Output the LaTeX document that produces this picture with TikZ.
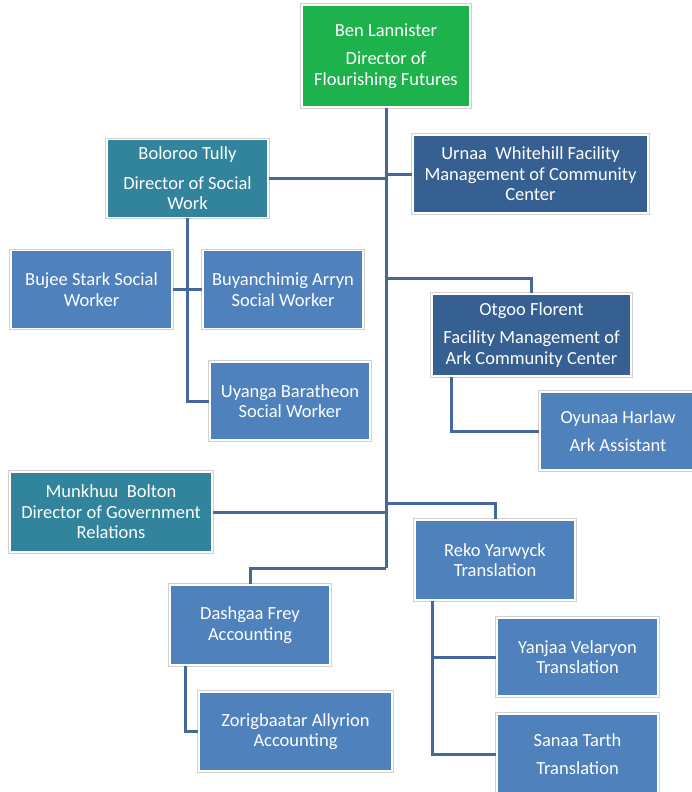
\documentclass[tikz,border=0pt]{standalone}
\usepackage{fontspec}
\setmainfont{Carlito}
\usepackage{tikz}
\usepackage{xcolor}
\definecolor{headGreen}{RGB}{30,178,76}
\definecolor{directorTeal}{RGB}{49,132,155}
\definecolor{managerBlue}{RGB}{55,96,146}
\definecolor{staffBlue}{RGB}{79,129,189}
\definecolor{linkBlue}{RGB}{68,104,153}

\begin{document}
\begin{tikzpicture}[x=1pt, y=-1pt,
	box/.style={rectangle, draw=white, line width=1.5pt, text=white, align=center, inner sep=0pt,
		minimum width=161, minimum height=78, font=\fontsize{18.5}{20.5}\selectfont,
		preaction={draw=black!18, line width=3.5pt}},
	link/.style={draw=linkBlue, line width=3pt}]
	\useasboundingbox (0,0) rectangle (692,792);
	\node[box, fill=headGreen, minimum width=168, minimum height=102] (ben) at (386,56) {Ben Lannister\\[8pt]Director of\\Flourishing Futures};
	\node[box, fill=directorTeal] (boloroo) at (187.5,178.5) {Boloroo Tully\\[9pt]Director of Social\\Work};
	\node[box, fill=managerBlue, minimum width=235] (urnaa) at (530.5,174) {Urnaa\ \ Whitehill Facility\\Management of Community\\Center};
	\node[box, fill=staffBlue] (bujee) at (91.5,289.5) {Bujee Stark Social\\Worker};
	\node[box, fill=staffBlue, minimum width=160] (buyan) at (283,289.5) {Buyanchimig Arryn\\Social Worker};
	\node[box, fill=staffBlue, minimum width=160] (uyanga) at (290,401) {Uyanga Baratheon\\Social Worker};
	\node[box, fill=managerBlue, minimum width=199, minimum height=82] (otgoo) at (531.5,335) {Otgoo Florent\\[8pt]Facility Management of\\Ark Community Center};
	\node[box, fill=staffBlue, minimum width=156] (oyunaa) at (618,431) {Oyunaa Harlaw\\[8pt]Ark Assistant};
	\node[box, fill=directorTeal, minimum width=202, minimum height=80] (munkhuu) at (111,512) {Munkhuu\ \ Bolton\\Director of Government\\Relations};
	\node[box, fill=staffBlue, minimum width=160, minimum height=80] (reko) at (495,560) {Reko Yarwyck\\Translation};
	\node[box, fill=staffBlue, minimum width=160, minimum height=80] (dashgaa) at (250,625) {Dashgaa Frey\\Accounting};
	\node[box, fill=staffBlue, minimum width=193, minimum height=79] (zorig) at (295.5,731.5) {Zorigbaatar Allyrion\\Accounting};
	\node[box, fill=staffBlue] (yanjaa) at (577.5,657) {Yanjaa Velaryon\\Translation};
	\node[box, fill=staffBlue, minimum height=80] (sanaa) at (577.5,754) {Sanaa Tarth\\[8pt]Translation};

	\coordinate (trunkEnd) at (386,568);
	\coordinate (otgooJoint) at (386,278);
	\coordinate (rekoJoint) at (386,503);

	\draw[link] (ben.south) -- (trunkEnd);
	\draw[link] (boloroo.east) -- (boloroo.east -| trunkEnd);
	\draw[link] (urnaa.west) -- (urnaa.west -| trunkEnd);
	\draw[link] (otgooJoint) -| (otgoo.north);
	\draw[link] (munkhuu.east) -- (munkhuu.east -| trunkEnd);
	\draw[link] (rekoJoint) -| (reko.north);
	\draw[link] (trunkEnd) -| (dashgaa.north);
	\draw[link] (boloroo.south) |- (uyanga.west);
	\draw[link] (bujee.east) -- (buyan.west);
	\draw[link] ([xshift=20]otgoo.south west) |- (oyunaa.west);
	\draw[link] ([xshift=16]dashgaa.south west) |- (zorig.west);
	\draw[link] ([xshift=18]reko.south west) |- (yanjaa.west);
	\draw[link] ([xshift=18]reko.south west) |- (sanaa.west);
\end{tikzpicture}
\end{document}
